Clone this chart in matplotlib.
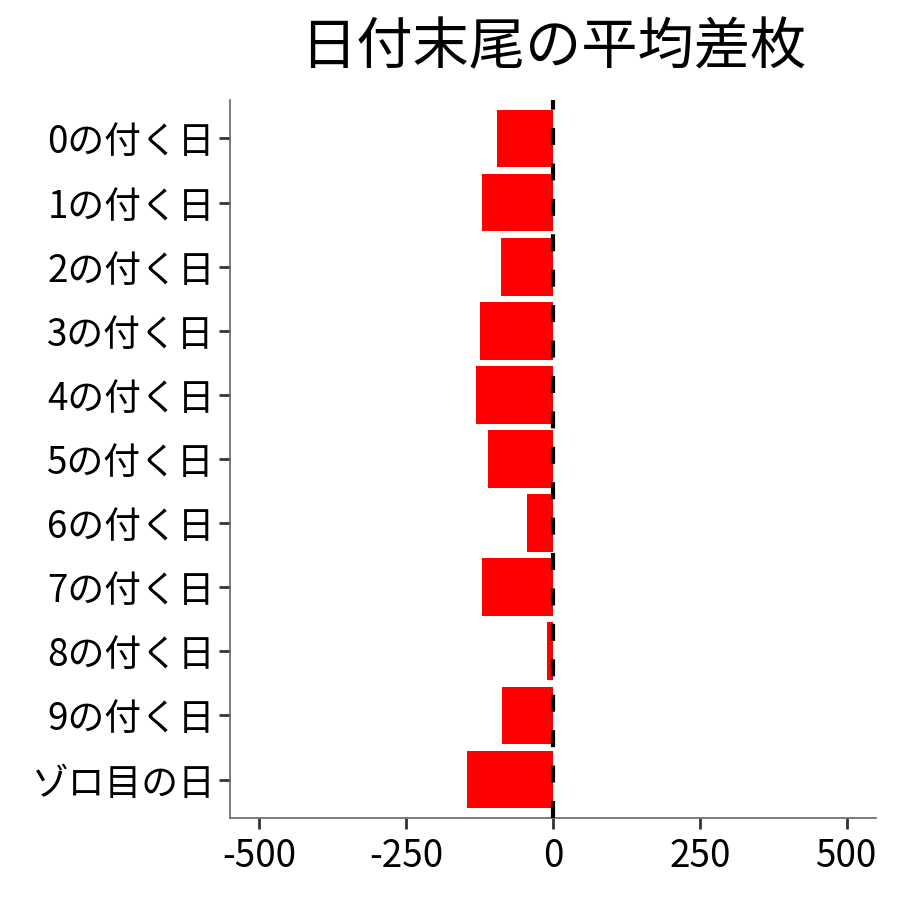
"""
    Average difference by date ending (horizontal bar chart)
"""

import matplotlib
matplotlib.use('Agg')
import matplotlib.pyplot as plt

plt.rcParams['font.family'] = ['Noto Sans CJK JP', 'DejaVu Sans']

# ============================================================
# Data
# ============================================================

categories = ['0の付く日', '1の付く日', '2の付く日', '3の付く日', '4の付く日',
              '5の付く日', '6の付く日', '7の付く日', '8の付く日', '9の付く日',
              'ゾロ目の日']
avg_diff = [-95, -121, -88, -124, -131, -110, -44, -121, -10, -87, -146]

x_ticks = [-500, -250, 0, 250, 500]
title = '日付末尾の平均差枚'


def main() -> None:
    fig = plt.figure(figsize=(9, 9), dpi=100)
    ax = fig.add_axes([0.2556, 0.0911, 0.7177, 0.7978])

    n = len(categories)
    ypos = list(range(n, 0, -1))

    ax.barh(ypos, avg_diff, height=0.9, color='#FF0000', zorder=2)
    ax.axvline(0, color='black', lw=3, dashes=(4.1, 4.4), zorder=3)

    ax.set_xlim(-550, 550)
    ax.set_ylim(0.4, n + 0.6)
    ax.set_xticks(x_ticks)
    ax.set_xticklabels([str(v) for v in x_ticks])
    ax.set_yticks(ypos)
    ax.set_yticklabels(categories)

    ax.tick_params(axis='both', labelsize=26.5, length=8, width=2,
                   color='#333333', labelcolor='black', pad=3)
    ax.tick_params(axis='x', pad=6)

    for side in ['top', 'right']:
        ax.spines[side].set_visible(False)
    for side in ['left', 'bottom']:
        ax.spines[side].set_color('#666666')
        ax.spines[side].set_linewidth(1.2)

    fig.text(0.6145, 0.946, title, fontsize=40.5, ha='center', va='center')

    fig.savefig('out.png', dpi=100)
    plt.close(fig)


if __name__ == '__main__':
    main()
